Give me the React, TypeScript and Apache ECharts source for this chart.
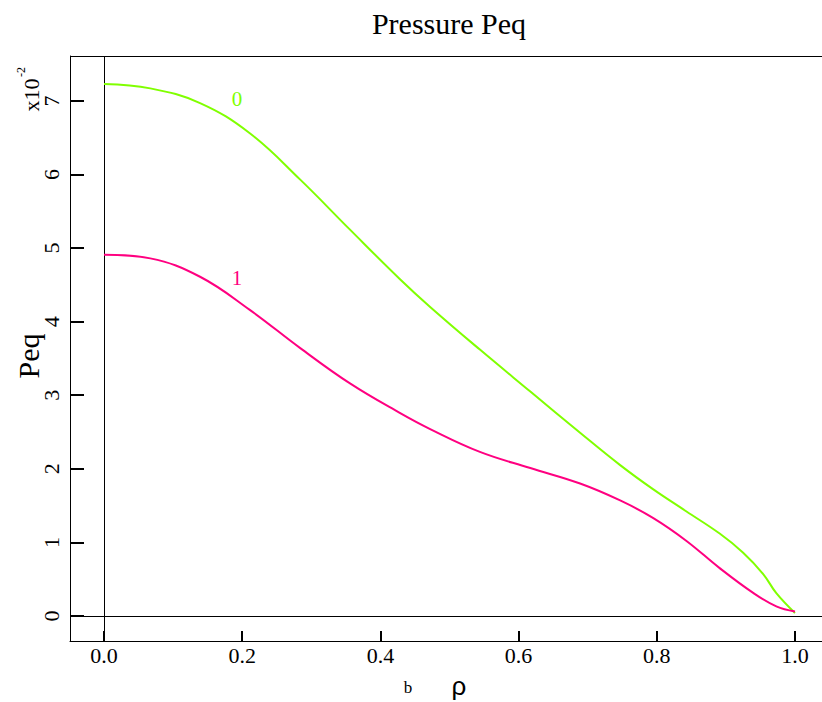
import React, { useEffect, useRef } from "react";
import * as echarts from "echarts";

// Profile "0"
const rho0 = [0, 0.067, 0.139, 0.211, 0.284, 0.356, 0.428, 0.472, 0.544, 0.617, 0.689, 0.747, 0.795, 0.843, 0.891, 0.925, 0.954, 0.973, 1.0];
const peq0 = [7.23, 7.17, 6.97, 6.56, 5.93, 5.25, 4.58, 4.2, 3.62, 3.05, 2.49, 2.05, 1.72, 1.42, 1.12, 0.86, 0.57, 0.31, 0.04];
// Profile "1"
const rho1 = [0, 0.067, 0.139, 0.211, 0.284, 0.356, 0.428, 0.472, 0.544, 0.617, 0.689, 0.747, 0.795, 0.843, 0.891, 0.94, 0.973, 1.0];
const peq1 = [4.91, 4.86, 4.61, 4.16, 3.64, 3.16, 2.76, 2.54, 2.23, 2.01, 1.8, 1.57, 1.33, 1.02, 0.65, 0.31, 0.13, 0.06];

const xTicks = [0, 0.2, 0.4, 0.6, 0.8, 1.0];
const yTicks = [0, 1, 2, 3, 4, 5, 6, 7];
const curveNames = ["0", "1"];
const curveLabelAt = [
  [0.1925, 7.03],
  [0.1925, 4.59],
];
const colors = ["#80ff00", "#ff0080"];

const SERIF = '"Liberation Serif", "Times New Roman", serif';
const SANS = '"Liberation Sans", Arial, sans-serif';

export default function App() {
  const ref = useRef<HTMLDivElement>(null);
  useEffect(() => {
    document.body.style.margin = "0";
    const chart = echarts.init(ref.current!, null, { renderer: "svg" });
    const mk = (rho: number[], peq: number[], i: number) => ({
      type: "line",
      data: rho.map((r, k) => [r, peq[k]]),
      showSymbol: false,
      smooth: 0.4,
      lineStyle: { color: colors[i], width: 2 },
      itemStyle: { color: colors[i] },
      z: 3,
      markPoint: {
        symbol: "circle",
        symbolSize: 1,
        itemStyle: { color: "rgba(0,0,0,0)" },
        label: {
          show: true,
          position: "inside",
          formatter: curveNames[i],
          color: colors[i],
          fontFamily: SERIF,
          fontSize: 21,
        },
        data: [{ coord: curveLabelAt[i] }],
      },
      markLine:
        i === 0
          ? {
              silent: true,
              symbol: "none",
              label: { show: false },
              lineStyle: { color: "#000", width: 1, type: "solid" },
              data: [{ xAxis: 0 }, { yAxis: 0 }],
              z: 2,
            }
          : undefined,
    });
    chart.setOption({
      animation: false,
      backgroundColor: "#fff",
      grid: { left: 70, top: 56, right: 0, bottom: 61 },
      xAxis: {
        type: "value",
        min: -0.0492,
        max: 1.0391,
        splitLine: { show: false },
        axisLine: { show: true, onZero: false, lineStyle: { color: "#000", width: 1 } },
        axisTick: { show: true, inside: true, length: 10, customValues: xTicks, lineStyle: { color: "#000", width: 2 } },
        axisLabel: {
          customValues: xTicks,
          formatter: (v: number) => v.toFixed(1),
          fontFamily: SERIF,
          fontSize: 22,
          color: "#000",
          margin: 3,
        },
      },
      yAxis: {
        type: "value",
        min: -0.34,
        max: 7.61,
        splitLine: { show: false },
        axisLine: { show: true, onZero: false, lineStyle: { color: "#000", width: 1 } },
        axisTick: { show: true, inside: true, length: 14, customValues: yTicks, lineStyle: { color: "#000", width: 2 } },
        axisLabel: {
          customValues: yTicks,
          rotate: 90,
          fontFamily: SERIF,
          fontSize: 22,
          color: "#000",
          margin: 8,
        },
      },
      graphic: [
        { type: "line", shape: { x1: 70, y1: 56.5, x2: 822, y2: 56.5 }, style: { stroke: "#000", lineWidth: 1 } },
        {
          type: "text",
          x: 449,
          y: 23,
          style: { text: "Pressure Peq", fontFamily: SERIF, fontSize: 30, fill: "#000", textAlign: "center", textVerticalAlign: "middle" },
        },
        {
          type: "text",
          x: 28,
          y: 356,
          rotation: Math.PI / 2,
          style: { text: "Peq", fontFamily: SERIF, fontSize: 30, fill: "#000", textAlign: "center", textVerticalAlign: "middle" },
        },
        {
          type: "text",
          x: 31,
          y: 95,
          rotation: Math.PI / 2,
          style: { text: "x10", fontFamily: SERIF, fontSize: 22, fill: "#000", textAlign: "center", textVerticalAlign: "middle" },
        },
        {
          type: "text",
          x: 21,
          y: 72,
          rotation: Math.PI / 2,
          style: { text: "-2", fontFamily: SERIF, fontSize: 12, fill: "#000", textAlign: "center", textVerticalAlign: "middle" },
        },
        {
          type: "text",
          x: 408,
          y: 687,
          style: { text: "b", fontFamily: SERIF, fontSize: 17, fill: "#000", textAlign: "center", textVerticalAlign: "middle" },
        },
        {
          type: "text",
          x: 459,
          y: 686,
          style: { text: "ρ", fontFamily: SANS, fontSize: 26, fill: "#000", textAlign: "center", textVerticalAlign: "middle" },
        },
      ],
      series: [mk(rho0, peq0, 0), mk(rho1, peq1, 1)],
    });
    return () => chart.dispose();
  }, []);
  return <div ref={ref} style={{ width: 822, height: 702 }} />;
}
